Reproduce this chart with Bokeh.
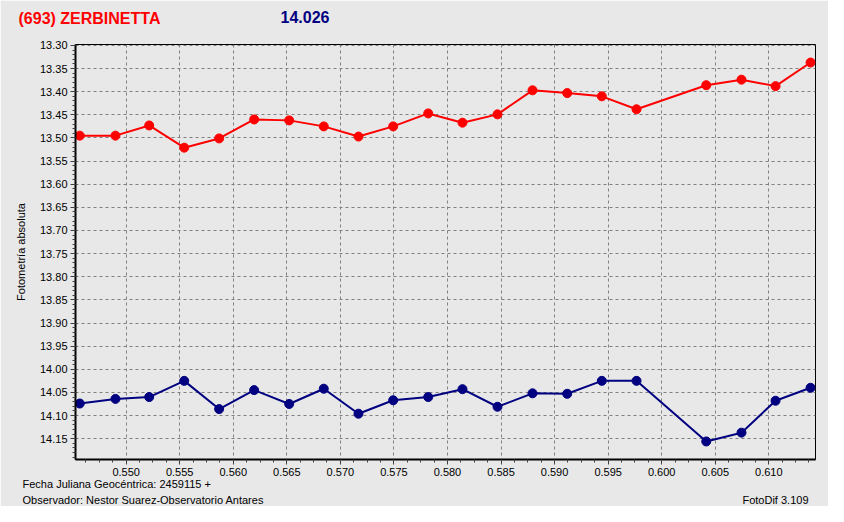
from bokeh.plotting import figure
from bokeh.models import Range1d, SingleIntervalTicker, NumeralTickFormatter, Label
from bokeh.embed import file_html
from bokeh.resources import INLINE

# ---- data ----
jd_frac = [0.54567, 0.54900, 0.55215, 0.55542, 0.55868, 0.56195, 0.56522,
           0.56845, 0.57169, 0.57493, 0.57820, 0.58140, 0.58467, 0.58794,
           0.59118, 0.59441, 0.59765, 0.60416, 0.60745, 0.61063, 0.61390]
mag_target = [13.495, 13.495, 13.473, 13.521, 13.501, 13.460, 13.462,
              13.475, 13.497, 13.475, 13.447, 13.467, 13.449, 13.397,
              13.403, 13.410, 13.438, 13.386, 13.374, 13.388, 13.337]
mag_comp = [14.074, 14.064, 14.060, 14.025, 14.086, 14.045, 14.075,
            14.042, 14.096, 14.067, 14.060, 14.043, 14.081, 14.052,
            14.053, 14.025, 14.025, 14.156, 14.137, 14.068, 14.040]

title_name = "(693) ZERBINETTA"
title_mag = "14.026"
y_label = "Fotometría absoluta"
x_note = "Fecha Juliana Geocéntrica: 2459115 +"
observer = "Observador: Nestor Suarez-Observatorio Antares"
software = "FotoDif 3.109"

BG = "#E8E8E8"
RED = "#FF0000"
NAVY = "#000080"
FONT = "Liberation Sans"
W, H = 828, 506

p = figure(width=W, height=H, output_backend="svg", toolbar_location=None,
           x_range=Range1d(0.54527, 0.61436), y_range=Range1d(14.195, 13.298),
           min_border_left=75, min_border_right=13, min_border_top=44,
           min_border_bottom=47)
p.frame_width = 740
p.frame_height = 415

p.background_fill_color = BG
p.border_fill_color = BG
p.outline_line_color = "black"
p.outline_line_width = 1

# axes
p.xaxis.ticker = SingleIntervalTicker(interval=0.005, num_minor_ticks=4)
p.yaxis.ticker = SingleIntervalTicker(interval=0.05, num_minor_ticks=5)
p.xaxis.formatter = NumeralTickFormatter(format="0.000")
p.yaxis.formatter = NumeralTickFormatter(format="0.00")
for ax in (p.xaxis, p.yaxis):
    ax.axis_line_width = 2
    ax.axis_line_color = "black"
    ax.major_tick_out = 5
    ax.major_tick_in = 0
    ax.minor_tick_out = 3
    ax.minor_tick_in = 0
    ax.major_tick_line_color = "#404040"
    ax.minor_tick_line_color = "#404040"
    ax.major_label_text_font = FONT
    ax.major_label_text_font_size = "11px"
    ax.major_label_text_color = "#000000"
    ax.major_label_standoff = 3
p.yaxis.axis_label = y_label
p.yaxis.axis_label_text_font = FONT
p.yaxis.axis_label_text_font_size = "11px"
p.yaxis.axis_label_text_font_style = "normal"
p.yaxis.axis_label_text_color = "#000000"
p.yaxis.axis_label_standoff = 10

# grid
for g in (p.xgrid, p.ygrid):
    g.grid_line_color = "#808080"
    g.grid_line_dash = "3 3"
    g.grid_line_width = 1

# series
p.line(jd_frac, mag_target, line_color=RED, line_width=2)
p.scatter(jd_frac, mag_target, marker="circle", size=9, fill_color=RED, line_color=RED)
p.line(jd_frac, mag_comp, line_color=NAVY, line_width=2)
p.scatter(jd_frac, mag_comp, marker="circle", size=9, fill_color=NAVY, line_color=NAVY)

# texts placed in side panels (screen units relative to their panel)
def lab(side, x, y, text, **kw):
    p.add_layout(Label(x=x, y=y, x_units="screen", y_units="screen", text=text,
                       text_font=FONT, text_baseline="middle", **kw), side)

lab("above", -57, 26, title_name, text_font_size="16px", text_font_style="bold", text_color=RED)
lab("above", 205, 11, title_mag, text_font_size="16px", text_font_style="bold", text_color=NAVY)
lab("above", 733, -484, software, text_font_size="11px", text_color="#000000", text_align="right")
lab("below", -53, 7, x_note, text_font_size="11px", text_color="#000000")
lab("below", -53, 3, observer, text_font_size="11px", text_color="#000000")

open("out.html", "w").write(file_html(p, INLINE))
